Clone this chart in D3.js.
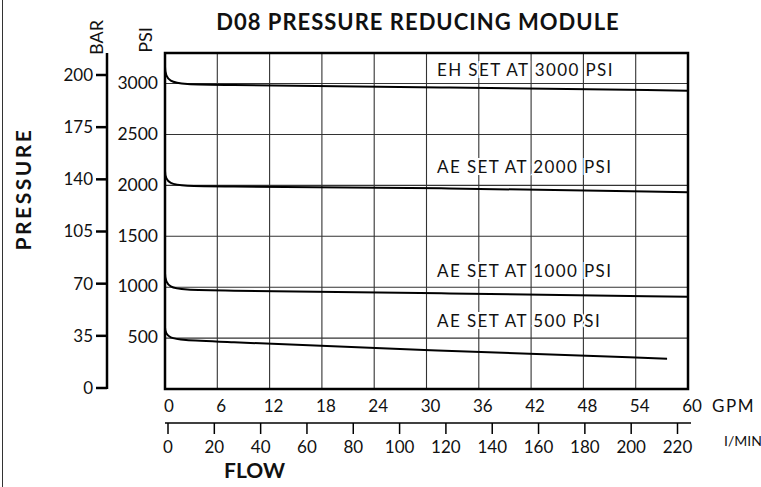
<!DOCTYPE html>
<html lang="en">
<head>
<meta charset="UTF-8" />
<title>D08 Pressure Reducing Module</title>
<script src="https://d3js.org/d3.v7.min.js"></script>
<style>
  body { margin: 0; background: #fff; }
  svg { display: block; }
  text { font-family: Lato, "Liberation Sans", sans-serif; fill: #111; }
  .bold { font-weight: 700; }
</style>
</head>
<body>
<svg width="761" height="487"></svg>
<script>
// Data
const gpmTicks = [0, 6, 12, 18, 24, 30, 36, 42, 48, 54, 60];
const lpmTicks = [0, 20, 40, 60, 80, 100, 120, 140, 160, 180, 200, 220];
const psiTicks = [500, 1000, 1500, 2000, 2500, 3000];
const barTicks = [0, 35, 70, 105, 140, 175, 200];

const seriesNames = ["EH SET AT 3000 PSI", "AE SET AT 2000 PSI", "AE SET AT 1000 PSI", "AE SET AT 500 PSI"];
const setPressures = [3000, 2000, 1000, 500];
// [gpm, psi]
const eh3000 = [[0, 3200], [0, 2995], [4, 2990], [31.5, 2963], [60, 2930]];
const ae2000 = [[0, 2170], [0, 1995], [4, 1991], [31.5, 1975], [60, 1933]];
const ae1000 = [[0, 1170], [0, 977], [4, 970], [31.5, 940], [60, 906]];
const ae500  = [[0, 630], [0, 484], [4, 474], [31.5, 375], [57.6, 298]];
const seriesData = [eh3000, ae2000, ae1000, ae500];

// Scales
const x = d3.scaleLinear().domain([0, 60]).range([165, 688]);
const y = d3.scaleLinear().domain([0, 3300]).range([389, 53]);
const xl = d3.scaleLinear().domain([0, 220]).range([168, 677.5]);
const yb = d3.scalePoint().domain(barTicks).range([388, 75]);

const svg = d3.select("svg");

// left frame edge
svg.append("line").attr("x1", 2.5).attr("x2", 2.5).attr("y1", 0).attr("y2", 487)
  .attr("stroke", "#333").attr("stroke-width", 1);

// title
svg.append("text").attr("class", "bold").attr("x", 418).attr("y", 30)
  .attr("text-anchor", "middle").style("font-size", "22px").style("letter-spacing", "1px")
  .text("D08 PRESSURE REDUCING MODULE");

// grid
const grid = svg.append("g").attr("stroke", "#333").attr("stroke-width", 1.1);
grid.selectAll(".vg").data(gpmTicks.slice(1, -1)).join("line")
  .attr("x1", d => x(d)).attr("x2", d => x(d))
  .attr("y1", y.range()[1]).attr("y2", y.range()[0]);
grid.selectAll(".hg").data(psiTicks).join("line")
  .attr("x1", x.range()[0]).attr("x2", x.range()[1])
  .attr("y1", d => y(d)).attr("y2", d => y(d));

// curves
const line = d3.line().x(d => x(d[0])).y(d => y(d[1])).curve(d3.curveBasis);
svg.selectAll(".curve").data(seriesData).join("path")
  .attr("d", line).attr("fill", "none").attr("stroke", "#000").attr("stroke-width", 2);

// box
svg.append("rect").attr("x", x.range()[0]).attr("y", y.range()[1])
  .attr("width", x.range()[1] - x.range()[0]).attr("height", y.range()[0] - y.range()[1])
  .attr("fill", "none").attr("stroke", "#000").attr("stroke-width", 2.5);

// curve labels
const labelOffsets = [7.5, 12, 10, 11];
svg.selectAll(".lbl").data(seriesNames).join("text")
  .attr("x", 437).attr("y", (d, i) => y(setPressures[i]) - labelOffsets[i])
  .style("font-size", "17px").style("letter-spacing", "1.4px")
  .attr("stroke", "#fff").attr("stroke-width", 4).attr("paint-order", "stroke")
  .text(d => d);

// PSI labels
svg.selectAll(".psi").data(psiTicks).join("text")
  .attr("x", 158).attr("y", d => y(d)).attr("dy", "0.3em")
  .attr("text-anchor", "end").style("font-size", "17.5px").text(d => d);
svg.append("text").attr("transform", "translate(152,40) rotate(-90)")
  .attr("text-anchor", "middle").style("font-size", "18px").text("PSI");

// BAR axis
svg.append("line").attr("x1", 107).attr("x2", 107).attr("y1", 53).attr("y2", 389)
  .attr("stroke", "#000").attr("stroke-width", 2.5);
svg.selectAll(".bt").data(barTicks).join("line")
  .attr("x1", 96).attr("x2", 107).attr("y1", d => yb(d)).attr("y2", d => yb(d))
  .attr("stroke", "#000").attr("stroke-width", 2.5);
svg.selectAll(".bl").data(barTicks).join("text")
  .attr("x", 93).attr("y", d => yb(d)).attr("dy", "0.35em")
  .attr("text-anchor", "end").style("font-size", "17px").text(d => d);
svg.append("text").attr("transform", "translate(103,37.5) rotate(-90)")
  .attr("text-anchor", "middle").style("font-size", "18px").text("BAR");

svg.append("text").attr("class", "bold").attr("transform", "translate(30.5,189) rotate(-90)")
  .attr("text-anchor", "middle").style("font-size", "21px").style("letter-spacing", "2.5px")
  .text("PRESSURE");

// GPM labels
svg.selectAll(".gl").data(gpmTicks).join("text")
  .attr("x", d => x(d) + 4).attr("y", 412)
  .attr("text-anchor", "middle").style("font-size", "17px").text(d => d);
svg.append("text").attr("x", 712).attr("y", 412).style("font-size", "17px")
  .style("letter-spacing", "1.5px").text("GPM");

// I/MIN axis
svg.append("line").attr("x1", 165).attr("x2", 691).attr("y1", 423).attr("y2", 423)
  .attr("stroke", "#000").attr("stroke-width", 1.5);
svg.selectAll(".lt").data(lpmTicks).join("line")
  .attr("x1", d => xl(d)).attr("x2", d => xl(d)).attr("y1", 423).attr("y2", 434)
  .attr("stroke", "#000").attr("stroke-width", 1.5);
svg.selectAll(".ll").data(lpmTicks).join("text")
  .attr("x", d => xl(d)).attr("y", 453)
  .attr("text-anchor", "middle").style("font-size", "17px").text(d => d);
svg.append("text").attr("x", 724).attr("y", 446).style("font-size", "14px").text("I/MIN");

svg.append("text").attr("class", "bold").attr("x", 224).attr("y", 478)
  .style("font-size", "21px").text("FLOW");
</script>
</body>
</html>
